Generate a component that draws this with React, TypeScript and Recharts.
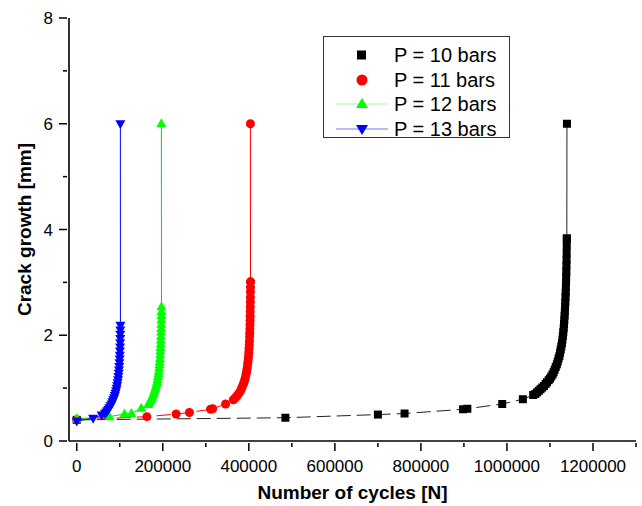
import React from 'react';
import { ScatterChart, Scatter, XAxis, YAxis, Legend } from 'recharts';

const FONT = '"Liberation Sans", Arial, sans-serif';

// P = 10 bars (black squares)
const p10Cycles = [0, 485000, 700000, 762000, 898000, 908000, 989000, 1037000,
    1061000, 1066000, 1070000, 1074000, 1078000, 1082000, 1086000, 1090000, 1093000, 1097000, 1100000, 1103000,
    1106000, 1108500, 1111000, 1113500, 1116000, 1118000, 1120000, 1122000, 1123500, 1125000, 1126500, 1127800,
    1129000, 1130000, 1131000, 1131900, 1132700, 1133400, 1134000, 1134600, 1135200, 1135700, 1136200, 1136600,
    1137000, 1137400, 1137700, 1138000, 1138300, 1138600, 1138800, 1139000, 1139200];
const p10Crack = [0.40, 0.44, 0.50, 0.52, 0.60, 0.61, 0.70, 0.79,
    0.87, 0.89, 0.92, 0.95, 0.98, 1.01, 1.04, 1.08, 1.11, 1.15, 1.18, 1.22,
    1.26, 1.30, 1.35, 1.40, 1.45, 1.50, 1.56, 1.61, 1.67, 1.73, 1.79, 1.85,
    1.92, 1.99, 2.06, 2.13, 2.21, 2.29, 2.37, 2.45, 2.54, 2.63, 2.72, 2.81,
    2.91, 3.01, 3.11, 3.21, 3.32, 3.43, 3.55, 3.69, 3.83];
const p10JumpCycles = [1139200, 1139500];
const p10JumpCrack = [3.83, 6.0];

// P = 11 bars (red circles)
const p11Cycles = [0, 163000, 231000, 262000, 311000, 316000, 346000,
    364000, 368000, 371000, 374000, 377000, 379500, 382000, 384000, 386000, 388000, 389500, 391000, 392500,
    393800, 395000, 396000, 397000, 397900, 398700, 399400, 400000, 400500, 401000, 401400, 401800, 402100,
    402400, 402700, 402900, 403100, 403300, 403450, 403600, 403700, 403800, 403850, 403900];
const p11Crack = [0.40, 0.46, 0.51, 0.54, 0.60, 0.61, 0.70,
    0.78, 0.81, 0.84, 0.87, 0.90, 0.93, 0.97, 1.01, 1.05, 1.09, 1.13, 1.17, 1.22,
    1.27, 1.32, 1.37, 1.43, 1.49, 1.55, 1.61, 1.68, 1.75, 1.82, 1.89, 1.97, 2.04,
    2.12, 2.20, 2.28, 2.36, 2.45, 2.54, 2.63, 2.72, 2.82, 2.91, 3.01];
const p11JumpCycles = [403900, 403700];
const p11JumpCrack = [3.01, 6.0];

// P = 12 bars (green triangles)
const p12Cycles = [0, 76000, 111000, 127000, 150000,
    166000, 169000, 171000, 173500, 175500, 177500, 179500, 181000, 182500, 184000, 185500, 186800, 188000,
    189000, 190000, 190800, 191500, 192200, 192800, 193400, 193900, 194400, 194800, 195200, 195500, 195800,
    196100, 196300, 196500, 196700, 196800, 196900, 197000, 196700];
const p12Crack = [0.42, 0.46, 0.51, 0.52, 0.62,
    0.69, 0.72, 0.76, 0.79, 0.83, 0.87, 0.91, 0.95, 0.99, 1.03, 1.08, 1.12, 1.17,
    1.22, 1.27, 1.32, 1.38, 1.44, 1.50, 1.56, 1.63, 1.70, 1.77, 1.84, 1.91, 1.98,
    2.06, 2.13, 2.21, 2.29, 2.37, 2.45, 2.54, 6.0];

// P = 13 bars (blue down triangles)
const p13Cycles = [0, 38000, 58000,
    66000, 68500, 71000, 73500, 76000, 78500, 81000, 83000, 85000, 87000, 88500, 90000, 91500, 92800, 94000,
    95000, 96000, 96800, 97600, 98200, 98800, 99300, 99800, 100200, 100500, 100800, 101000, 101200, 101300,
    101400, 101500, 101400];
const p13Crack = [0.38, 0.43, 0.49,
    0.52, 0.545, 0.57, 0.60, 0.63, 0.665, 0.70, 0.74, 0.78, 0.82, 0.86, 0.905, 0.95, 1.00, 1.05,
    1.10, 1.16, 1.22, 1.28, 1.345, 1.41, 1.48, 1.55, 1.62, 1.70, 1.78, 1.86, 1.94, 2.02,
    2.10, 2.19, 6.0];

const xTicks = [0, 100000, 200000, 300000, 400000, 500000, 600000, 700000, 800000, 900000, 1000000, 1100000, 1200000, 1300000];
const xLabelTicks = [0, 200000, 400000, 600000, 800000, 1000000, 1200000];
const yTicks = [0, 1, 2, 3, 4, 5, 6, 7, 8];
const yLabelTicks = [0, 2, 4, 6, 8];

const legendItems = ['P = 10 bars', 'P = 11 bars', 'P = 12 bars', 'P = 13 bars'];

const zip = (xs: number[], ys: number[]) => xs.map((n, i) => ({ n, y: ys[i] }));

const Square = (p: any) => <rect x={p.cx - 4} y={p.cy - 4} width={8} height={8} fill="#000" />;
const Dot = (p: any) => <circle cx={p.cx} cy={p.cy} r={4.5} fill="#ff0000" />;
const TriUp = (p: any) => (
    <path d={`M${p.cx},${p.cy - 5.5}L${p.cx + 5},${p.cy + 3.5}L${p.cx - 5},${p.cy + 3.5}Z`} fill="#00ff00" />
);
const TriDown = (p: any) => (
    <path d={`M${p.cx},${p.cy + 5.5}L${p.cx + 5},${p.cy - 3.5}L${p.cx - 5},${p.cy - 3.5}Z`} fill="#0000ff" />
);

const XTick = (props: any) => {
    const { x, y, payload } = props;
    const major = xLabelTicks.includes(payload.value);
    return (
        <g>
            <line x1={x} x2={x} y1={y} y2={y + (major ? 8 : 4)} stroke="#000" strokeWidth={1.5} />
            {major && (
                <text x={x} y={y + 29} textAnchor="middle" fontSize={17} fontFamily={FONT} fill="#000">
                    {payload.value}
                </text>
            )}
        </g>
    );
};

const YTick = (props: any) => {
    const { x, y, payload } = props;
    const major = yLabelTicks.includes(payload.value);
    return (
        <g>
            <line x1={x - (major ? 8 : 4)} x2={x} y1={y} y2={y} stroke="#000" strokeWidth={1.5} />
            {major && (
                <text x={x - 14} y={y + 6} textAnchor="end" fontSize={17} fontFamily={FONT} fill="#000">
                    {payload.value}
                </text>
            )}
        </g>
    );
};

const LegendBox = () => {
    const rows = [19, 44, 68, 93];
    return (
        <svg width={188} height={103} style={{ display: 'block' }}>
            <rect x={0.5} y={0.5} width={186} height={101} fill="#fff" stroke="#333" strokeWidth={1} />
            <rect x={34} y={rows[0] - 4.5} width={9} height={9} fill="#000" />
            <circle cx={39} cy={rows[1]} r={5.5} fill="#ff0000" />
            <line x1={13} x2={65} y1={rows[2]} y2={rows[2]} stroke="#9f9" strokeWidth={1} />
            <path d={`M39,${rows[2] - 6}L45,${rows[2] + 4}L33,${rows[2] + 4}Z`} fill="#00ff00" />
            <line x1={13} x2={65} y1={rows[3]} y2={rows[3]} stroke="#77f" strokeWidth={1} />
            <path d={`M39,${rows[3] + 6}L45,${rows[3] - 4}L33,${rows[3] - 4}Z`} fill="#0000ff" />
            {legendItems.map((t, i) => (
                <text key={t} x={71} y={rows[i] + 7} fontSize={20} fontFamily={FONT} fill="#000">
                    {t}
                </text>
            ))}
        </svg>
    );
};

export default function App() {
    return (
        <div style={{ position: 'absolute', left: 0, top: 0, width: 642, height: 506, background: '#fff' }}>
            <ScatterChart width={642} height={506} margin={{ top: 18, right: 6, bottom: 0, left: 0 }}>
                <XAxis
                    type="number"
                    dataKey="n"
                    domain={[-18000, 1300000]}
                    ticks={xTicks}
                    interval={0}
                    height={65}
                    tickSize={0}
                    tickLine={false}
                    tick={<XTick />}
                    axisLine={{ stroke: '#000', strokeWidth: 1.6 }}
                    label={{ value: 'Number of cycles [N]', position: 'insideBottom', offset: 7, fontSize: 19, fontWeight: 'bold', fill: '#000', fontFamily: FONT }}
                />
                <XAxis xAxisId="top" orientation="top" type="number" domain={[-18000, 1300000]} height={0} tick={false} tickLine={false} axisLine={{ stroke: '#000', strokeWidth: 1.4 }} />
                <YAxis
                    type="number"
                    dataKey="y"
                    domain={[0, 8]}
                    ticks={yTicks}
                    interval={0}
                    width={69}
                    tickSize={0}
                    tickLine={false}
                    tick={<YTick />}
                    axisLine={{ stroke: '#000', strokeWidth: 1.6 }}
                    label={{ value: 'Crack growth [mm]', angle: -90, position: 'insideLeft', offset: 24, fontSize: 19, fontWeight: 'bold', fill: '#000', fontFamily: FONT, style: { textAnchor: 'middle' } }}
                />
                <YAxis yAxisId="right" orientation="right" type="number" domain={[0, 8]} width={0} tick={false} tickLine={false} axisLine={{ stroke: '#000', strokeWidth: 1.4 }} />
                <Legend layout="vertical" align="center" verticalAlign="middle" content={<LegendBox />} wrapperStyle={{ position: 'absolute', left: 323, top: 36, width: 188, height: 103 }} />

                <Scatter name="P = 10 bars" data={zip(p10Cycles, p10Crack)} shape={<Square />} line={{ stroke: '#222', strokeWidth: 1, strokeDasharray: '14 6' }} lineType="joint" isAnimationActive={false} legendType="none" />
                <Scatter data={zip(p10JumpCycles, p10JumpCrack)} shape={<Square />} line={{ stroke: '#222', strokeWidth: 1 }} lineType="joint" isAnimationActive={false} legendType="none" />
                <Scatter name="P = 11 bars" data={zip(p11Cycles, p11Crack)} shape={<Dot />} line={{ stroke: '#ff0000', strokeWidth: 1, strokeDasharray: '14 6' }} lineType="joint" isAnimationActive={false} legendType="none" />
                <Scatter data={zip(p11JumpCycles, p11JumpCrack)} shape={<Dot />} line={{ stroke: '#ff0000', strokeWidth: 1 }} lineType="joint" isAnimationActive={false} legendType="none" />
                <Scatter name="P = 12 bars" data={zip(p12Cycles, p12Crack)} shape={<TriUp />} line={{ stroke: '#00dd00', strokeWidth: 1 }} lineType="joint" isAnimationActive={false} legendType="none" />
                <Scatter name="P = 13 bars" data={zip(p13Cycles, p13Crack)} shape={<TriDown />} line={{ stroke: '#0000ff', strokeWidth: 1 }} lineType="joint" isAnimationActive={false} legendType="none" />
            </ScatterChart>
        </div>
    );
}
